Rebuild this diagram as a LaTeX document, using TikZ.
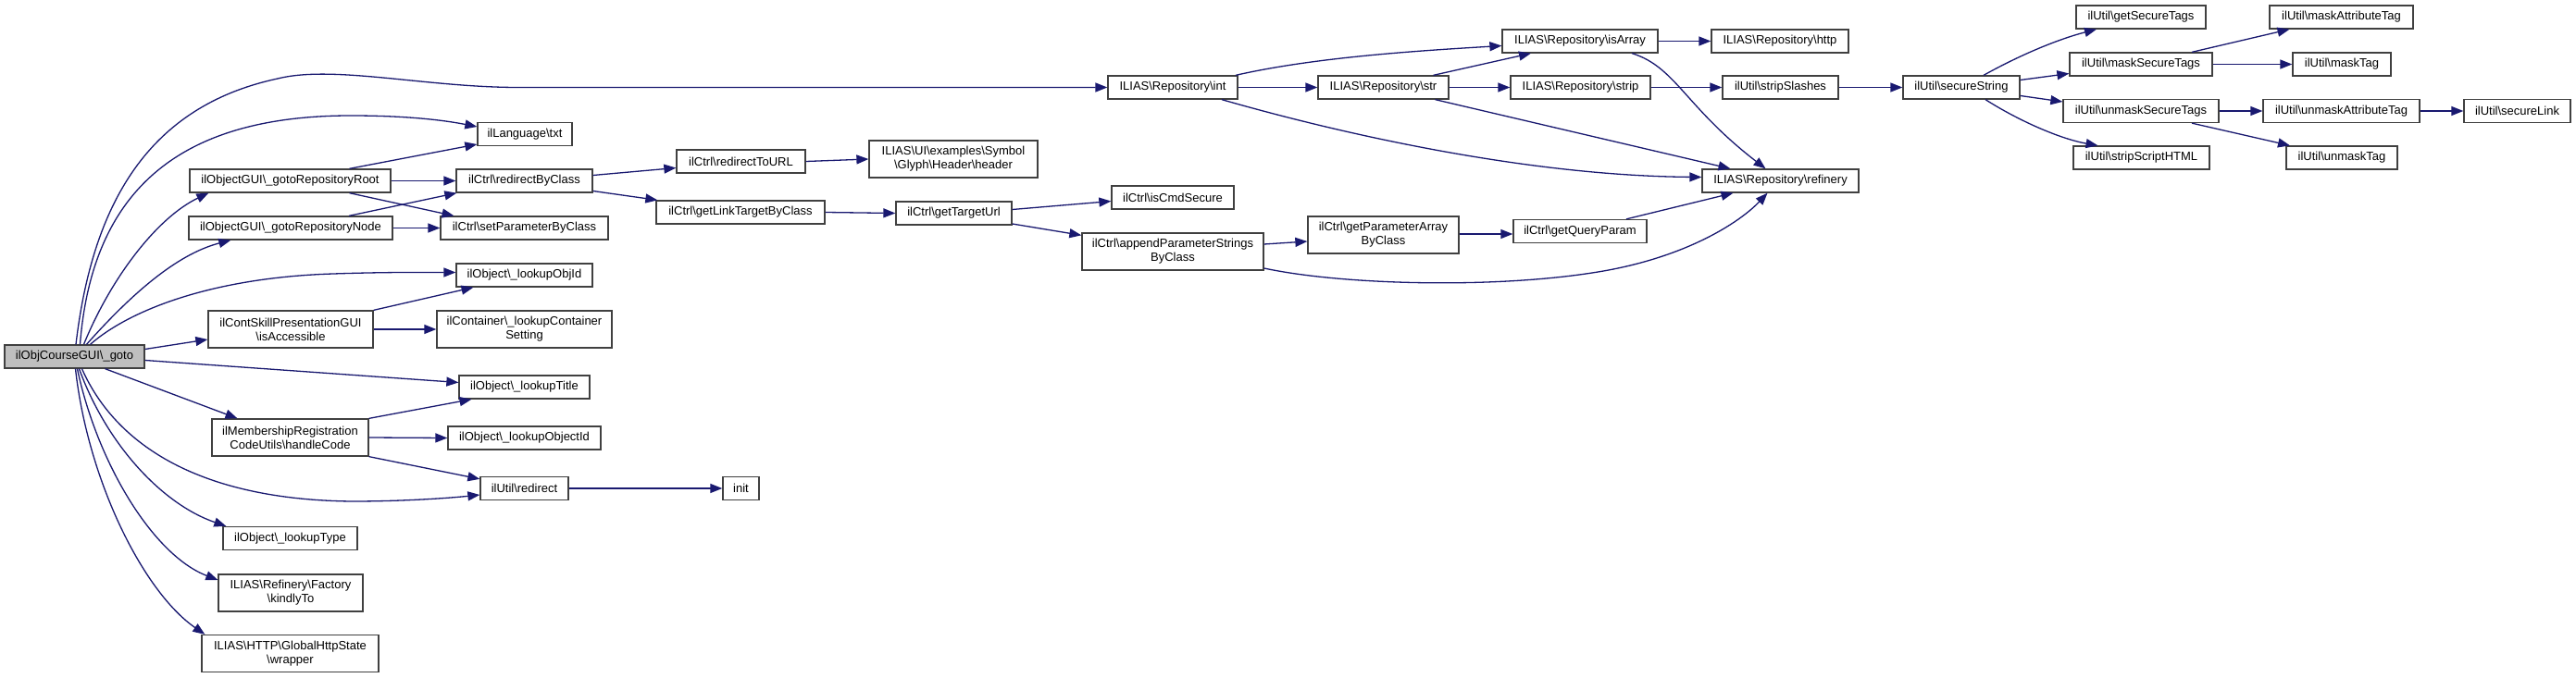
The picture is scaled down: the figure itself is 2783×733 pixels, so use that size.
\documentclass[tikz,border=0pt]{standalone}
\usepackage{fontspec}
\setmainfont{Liberation Sans}
\usetikzlibrary{arrows.meta}
\definecolor{navy}{HTML}{191970}
\definecolor{boxline}{HTML}{404040}
\newcommand{\bsl}{\textbackslash{}}
\tikzset{
  fn/.style={draw=boxline, line width=1.3pt, fill=white, inner sep=0pt, minimum height=25pt, align=center, font=\fontsize{13}{15}\selectfont},
  fntwo/.style={fn, minimum height=40pt},
  root/.style={fn, fill=black!25},
  edge/.style={draw=navy, line width=1.3pt, -{Triangle[length=13pt,width=10pt]}}
}
\begin{document}
\begin{tikzpicture}[x=1pt,y=-1pt]
\fill[white] (0,0) rectangle (2783,733);
\path[use as bounding box] (0,0) rectangle (2783,733);
% column 0
\node[root, minimum width=151pt] (goto) at (80.5,385.5) {ilObjCourseGUI\bsl\_goto};
% column 1
\node[fn, minimum width=217pt] (groot) at (313.5,195.5) {ilObjectGUI\bsl\_gotoRepositoryRoot};
\node[fn, minimum width=220pt] (gnode) at (314,246.5) {ilObjectGUI\bsl\_gotoRepositoryNode};
\node[fntwo, minimum width=178pt] (isacc) at (314,356) {ilContSkillPresentationGUI\\\bsl isAccessible};
\node[fntwo, minimum width=169pt] (hcode) at (313.5,473) {ilMembershipRegistration\\CodeUtils\bsl handleCode};
\node[fn, minimum width=145pt] (ltype) at (313.5,582) {ilObject\bsl\_lookupType};
\node[fntwo, minimum width=156pt] (kindly) at (314,641) {ILIAS\bsl Refinery\bsl Factory\\\bsl kindlyTo};
\node[fntwo, minimum width=191pt] (wrap) at (313.5,706.5) {ILIAS\bsl HTTP\bsl GlobalHttpState\\\bsl wrapper};
% column 2
\node[fn, minimum width=102pt] (txt) at (567,145) {ilLanguage\bsl txt};
\node[fn, minimum width=147pt] (rbc) at (566.5,195.5) {ilCtrl\bsl redirectByClass};
\node[fn, minimum width=181pt] (spbc) at (566.5,246.5) {ilCtrl\bsl setParameterByClass};
\node[fn, minimum width=147pt] (lobjid) at (566.5,297.5) {ilObject\bsl\_lookupObjId};
\node[fntwo, minimum width=189pt] (lcs) at (566.5,356) {ilContainer\bsl\_lookupContainer\\Setting};
\node[fn, minimum width=141pt] (ltitle) at (566.5,418.5) {ilObject\bsl\_lookupTitle};
\node[fn, minimum width=165pt] (lobjectid) at (566.5,473.5) {ilObject\bsl\_lookupObjectId};
\node[fn, minimum width=95pt] (redir) at (566.5,528) {ilUtil\bsl redirect};
% column 3
\node[fn, minimum width=139pt] (rurl) at (800.5,174.5) {ilCtrl\bsl redirectToURL};
\node[fn, minimum width=182pt] (gltbc) at (800,229.5) {ilCtrl\bsl getLinkTargetByClass};
\node[fn, minimum width=39pt] (init) at (800.5,528) {init};
% column 4
\node[fntwo, minimum width=182pt] (header) at (1030,172) {ILIAS\bsl UI\bsl examples\bsl Symbol\\\bsl Glyph\bsl Header\bsl header};
\node[fn, minimum width=125pt] (gturl) at (1030.5,230.5) {ilCtrl\bsl getTargetUrl};
% column 5
\node[fn, minimum width=140pt] (int) at (1267,94.5) {ILIAS\bsl Repository\bsl int};
\node[fn, minimum width=132pt] (iscmd) at (1267,213.5) {ilCtrl\bsl isCmdSecure};
\node[fntwo, minimum width=196pt] (apsbc) at (1267,272) {ilCtrl\bsl appendParameterStrings\\ByClass};
% column 6
\node[fn, minimum width=141pt] (str) at (1494.5,94.5) {ILIAS\bsl Repository\bsl str};
\node[fntwo, minimum width=163pt] (gpabc) at (1494.5,254) {ilCtrl\bsl getParameterArray\\ByClass};
% column 7
\node[fn, minimum width=168pt] (isarr) at (1707,44.5) {ILIAS\bsl Repository\bsl isArray};
\node[fn, minimum width=151pt] (strip) at (1707.5,94.5) {ILIAS\bsl Repository\bsl strip};
\node[fn, minimum width=144pt] (gqp) at (1707,250) {ilCtrl\bsl getQueryParam};
% column 8
\node[fn, minimum width=148pt] (http) at (1923,44.5) {ILIAS\bsl Repository\bsl http};
\node[fn, minimum width=125pt] (sslash) at (1923.5,94.5) {ilUtil\bsl stripSlashes};
\node[fn, minimum width=169pt] (refin) at (1923.5,195.5) {ILIAS\bsl Repository\bsl refinery};
% column 9
\node[fn, minimum width=126pt] (sstr) at (2119,94.5) {ilUtil\bsl secureString};
% column 10
\node[fn, minimum width=140pt] (gst) at (2313,18.5) {ilUtil\bsl getSecureTags};
\node[fn, minimum width=154pt] (mst) at (2313,69.5) {ilUtil\bsl maskSecureTags};
\node[fn, minimum width=168pt] (umst) at (2313,120) {ilUtil\bsl unmaskSecureTags};
\node[fn, minimum width=147pt] (sshtml) at (2313.5,170.5) {ilUtil\bsl stripScriptHTML};
% column 11
\node[fn, minimum width=155pt] (mat) at (2529.5,18.5) {ilUtil\bsl maskAttributeTag};
\node[fn, minimum width=106pt] (mtag) at (2530,69.5) {ilUtil\bsl maskTag};
\node[fn, minimum width=169pt] (umat) at (2529.5,120) {ilUtil\bsl unmaskAttributeTag};
\node[fn, minimum width=120pt] (umtag) at (2530,170.5) {ilUtil\bsl unmaskTag};
% column 12
\node[fn, minimum width=115pt] (slink) at (2719.5,120) {ilUtil\bsl secureLink};

% edges from goto
\draw[edge] ([xshift=1.5pt]goto.north) .. controls (100,220) and (160,115) .. (300,85) .. controls (360,70) and (460,94.5) .. (560,94.5) -- (int.west);
\draw[edge] ([xshift=6pt]goto.north) .. controls (100,200) and (200,125) .. (379,125) .. controls (440,125) and (480,130) .. ([yshift=8pt]txt.west);
\draw[edge] ([xshift=10pt]goto.north) .. controls (120,300) and (170,235) .. ([xshift=21pt]groot.south west);
\draw[edge] ([xshift=13pt]goto.north) .. controls (140,320) and (190,275) .. ([xshift=46pt]gnode.south west);
\draw[edge] ([xshift=17pt]goto.north) .. controls (140,335) and (230,300) .. (360,296) .. controls (420,294) and (460,294.5) .. ([yshift=3pt]lobjid.west);
\draw[edge] ([yshift=8pt]goto.east) -- ([yshift=-11pt]isacc.west);
\draw[edge] ([yshift=-4pt]goto.east) -- ([yshift=5pt]ltitle.west);
\draw[edge] ([xshift=33pt]goto.south) -- ([xshift=-57pt]hcode.north);
\draw[edge] ([xshift=8pt]goto.south) .. controls (120,470) and (200,540) .. (380,542) .. controls (440,542) and (490,538) .. ([yshift=-7pt]redir.west);
\draw[edge] ([xshift=5pt]goto.south) .. controls (115,480) and (175,545) .. ([xshift=4pt]ltype.north west);
\draw[edge] ([xshift=3pt]goto.south) .. controls (105,500) and (165,600) .. ([yshift=14pt]kindly.west);
\draw[edge] ([xshift=1pt]goto.south) .. controls (95,520) and (155,640) .. ([xshift=4pt]wrap.north west);
% column 1 edges
\draw[edge] ([xshift=64pt]groot.north) -- ([yshift=-11pt]txt.west);
\draw[edge] (groot.east) -- (rbc.west);
\draw[edge] ([xshift=64pt]groot.south) -- ([xshift=-76pt]spbc.north);
\draw[edge] ([xshift=63pt]gnode.north) -- ([xshift=1pt]rbc.south west);
\draw[edge] (gnode.east) -- (spbc.west);
\draw[edge] (isacc.north east) -- ([xshift=-55pt]lobjid.south);
\draw[edge] (isacc.east) -- (lcs.west);
\draw[edge] (hcode.north east) -- ([xshift=-57pt]ltitle.south);
\draw[edge] (hcode.east) -- (lobjectid.west);
\draw[edge] (hcode.south east) -- ([yshift=-3pt]redir.north west);
\draw[edge] (redir.east) -- (init.west);
% column 2-4 edges
\draw[edge] ([yshift=6pt]rbc.east) -- ([yshift=-7pt]rurl.west);
\draw[edge] ([yshift=-11pt]rbc.east) -- ([xshift=2pt]gltbc.north west);
\draw[edge] (rurl.east) -- (header.west);
\draw[edge] (gltbc.east) -- (gturl.west);
\draw[edge] ([yshift=4pt]gturl.east) -- ([yshift=-4pt]iscmd.west);
\draw[edge] ([yshift=-11.5pt]gturl.east) -- ([yshift=-3pt]apsbc.north west);
\draw[edge] ([yshift=8pt]apsbc.east) -- ([yshift=-7pt]gpabc.west);
\draw[edge] ([yshift=-18pt]apsbc.east) .. controls (1450,308) and (1610,312) .. (1720,295) .. controls (1820,280) and (1880,240) .. ([xshift=-14pt]refin.south);
\draw[edge] ([yshift=1pt]gpabc.east) -- ([yshift=-3pt]gqp.west);
\draw[edge] ([xshift=50pt]gqp.north) -- ([xshift=-51pt]refin.south);
% repository edges
\draw[edge] ([xshift=68pt]int.north) .. controls (1420,62) and (1530,55) .. ([yshift=-5pt]isarr.west);
\draw[edge] (int.east) -- (str.west);
\draw[edge] ([xshift=53pt]int.south) .. controls (1450,145) and (1650,190) .. ([yshift=4pt]refin.west);
\draw[edge] ([xshift=54pt]str.north) -- ([xshift=-53pt]isarr.south);
\draw[edge] (str.east) -- (strip.west);
\draw[edge] ([xshift=56pt]str.south) -- ([xshift=-54pt]refin.north);
\draw[edge] (isarr.east) -- (http.west);
\draw[edge] ([xshift=56pt]isarr.south) .. controls (1810,72) and (1820,115) .. ([xshift=-16pt]refin.north);
\draw[edge] (strip.east) -- (sslash.west);
\draw[edge] (sslash.east) -- (sstr.west);
% ilUtil edges
\draw[edge] ([xshift=24pt]sstr.north) .. controls (2185,58) and (2225,42) .. ([xshift=-48pt]gst.south);
\draw[edge] ([yshift=8pt]sstr.east) -- ([yshift=-10pt]mst.west);
\draw[edge] ([yshift=-9pt]sstr.east) -- ([yshift=10pt]umst.west);
\draw[edge] ([xshift=26pt]sstr.south) .. controls (2180,130) and (2225,150) .. ([xshift=-47pt]sshtml.north);
\draw[edge] ([xshift=55pt]mst.north) -- ([xshift=-56pt]mat.south);
\draw[edge] (mst.east) -- (mtag.west);
\draw[edge] (umst.east) -- (umat.west);
\draw[edge] ([xshift=55pt]umst.south) -- ([xshift=-56pt]umtag.north);
\draw[edge] (umat.east) -- (slink.west);
\end{tikzpicture}
\end{document}
